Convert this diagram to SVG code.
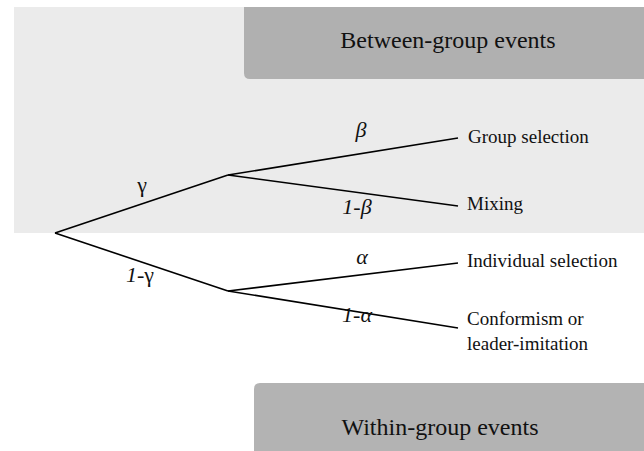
<svg xmlns="http://www.w3.org/2000/svg" width="644" height="451" viewBox="0 0 644 451">
<style>
.t{font-family:"Liberation Serif","Times New Roman",serif;fill:#111}
.head{font-size:24px}
.leaf{font-size:19px}
.gr{font-size:22px}
.it{font-style:italic}
.edge{stroke:#000;stroke-width:1.6;fill:none}
</style>
<rect x="0" y="0" width="644" height="451" fill="#fff"/>
<rect x="14" y="7" width="630" height="226" fill="#ebebeb"/>
<g id="between">
<path d="M244 7 H644 V79 H250 Q244 79 244 73 Z" fill="#b0b0b0"/>
<text class="t head" x="448" y="48" text-anchor="middle">Between-group events</text>
</g>
<g id="within">
<path d="M254 451 V389 Q254 383 260 383 H644 V451 Z" fill="#b3b3b3"/>
<text class="t head" x="440" y="435" text-anchor="middle">Within-group events</text>
</g>
<g id="connectors">
<path class="edge" d="M55 233 L228 175"/>
<path class="edge" d="M55 233 L228 291"/>
<path class="edge" d="M228 175 L458 138"/>
<path class="edge" d="M228 175 L458 206"/>
<path class="edge" d="M228 291 L458 263"/>
<path class="edge" d="M228 291 L458 328"/>
<text class="t gr" x="142" y="192" text-anchor="middle">γ</text>
<text class="t gr" x="140" y="282" text-anchor="middle"><tspan class="it">1-</tspan>γ</text>
<text class="t gr it" x="361" y="137" text-anchor="middle">β</text>
<text class="t gr it" x="357" y="214" text-anchor="middle">1-β</text>
<text class="t gr it" x="362" y="264" text-anchor="middle">α</text>
<text class="t gr it" x="357" y="322" text-anchor="middle">1-α</text>
</g>
<g id="group-selection"><text class="t leaf" x="468" y="143">Group selection</text></g>
<g id="mixing"><text class="t leaf" x="467" y="210">Mixing</text></g>
<g id="individual-selection"><text class="t leaf" x="467" y="267">Individual selection</text></g>
<g id="conformism"><text class="t leaf" x="467" y="325">Conformism or</text><text class="t leaf" x="467" y="350">leader-imitation</text></g>
</svg>
